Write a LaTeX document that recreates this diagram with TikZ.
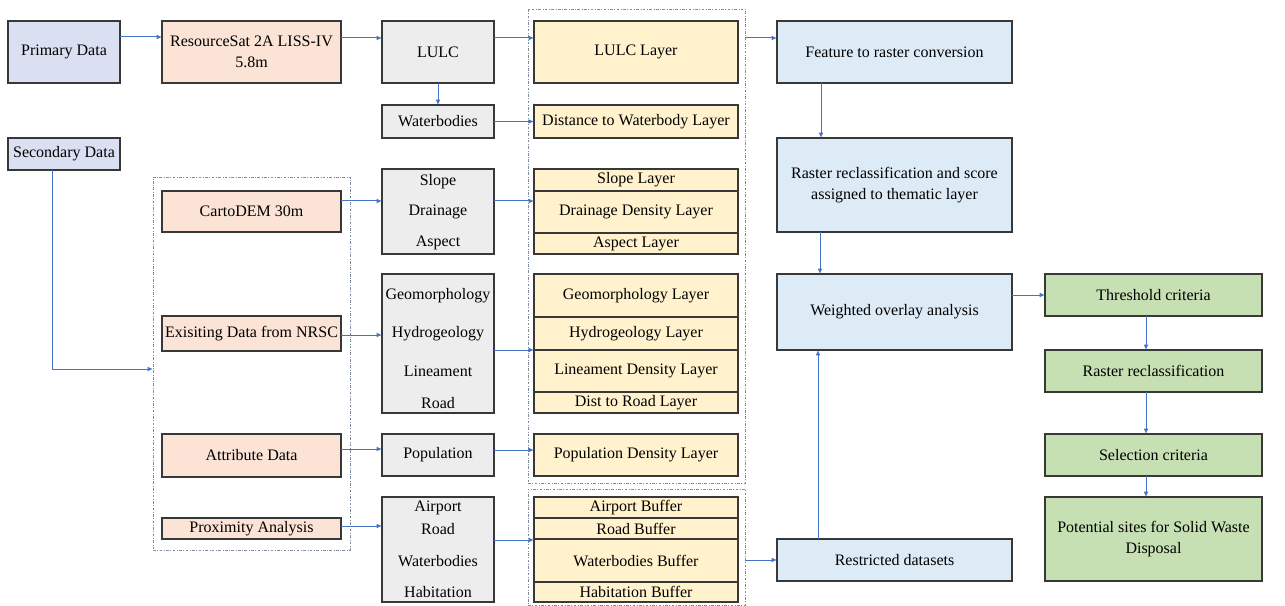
\documentclass[tikz,border=0pt]{standalone}
\usepackage{fontspec}
\setmainfont{Liberation Serif}
\usetikzlibrary{arrows.meta}
\definecolor{cPri}{HTML}{DAE0F2}
\definecolor{cPeach}{HTML}{FBE3D6}
\definecolor{cGray}{HTML}{EDEDED}
\definecolor{cYel}{HTML}{FFF2CC}
\definecolor{cBlue}{HTML}{DDEBF7}
\definecolor{cGreen}{HTML}{C6E0B4}
\definecolor{cArr}{HTML}{4472C4}
\definecolor{cBord}{HTML}{383838}
\definecolor{cDash}{HTML}{7F8CA0}
\tikzset{
  base/.style={draw=cBord, line width=0.8pt, inner sep=0pt, outer sep=0pt, align=center,
    font=\fontsize{12}{15.75}\selectfont, text=black},
  pri/.style={base, fill=cPri},
  peach/.style={base, fill=cPeach},
  gray/.style={base, fill=cGray},
  yel/.style={base, fill=cYel},
  lblue/.style={base, fill=cBlue},
  green/.style={base, fill=cGreen},
  dbox/.style={draw=cDash, line width=0.6pt, dash pattern=on 2pt off 1.2pt on 0.5pt off 1.2pt, inner sep=0pt, outer sep=0pt},
  lbl/.style={inner sep=0pt, font=\fontsize{12}{15.75}\selectfont, text=black},
  arr/.style={draw=cArr, line width=0.75pt, -{Latex[length=4pt,width=3.5pt]}},
  ln/.style={draw=cArr, line width=0.75pt}
}
% #1 style, #2 name, #3 x1, #4 y1, #5 x2, #6 y2, #7 text
\newcommand\bx[7]{\node[#1, minimum width={(#5-#3)*0.75pt}, minimum height={(#6-#4)*0.75pt}] (#2) at ({(#3+#5)/2},{(#4+#6)/2}) {#7};}
\begin{document}
\begin{tikzpicture}[x=0.75pt,y=-0.75pt]
\useasboundingbox[fill=white] (0,0) rectangle (1285,606);
% dashed frames
\bx{dbox}{leftbox}{153}{177}{350}{550}{}
\bx{dbox}{laybox}{528}{9}{745}{483}{}
\bx{dbox}{bufbox}{528}{489}{745}{605}{}
% column 1
\bx{pri}{prim}{8}{21}{120}{83}{Primary Data}
\bx{pri}{sec}{8}{138}{120}{170}{Secondary Data}
% column 2
\bx{peach}{res}{162}{21}{341}{83}{ResourceSat 2A LISS-IV\\5.8m}
\bx{peach}{carto}{162}{191}{341}{232}{CartoDEM 30m}
\bx{peach}{exist}{162}{316}{341}{351}{Exisiting Data from NRSC}
\bx{peach}{attr}{162}{434}{341}{477}{Attribute Data}
\bx{peach}{prox}{162}{518}{341}{539}{Proximity Analysis}
% column 3
\bx{gray}{lulc}{382}{21}{494}{83}{LULC}
\bx{gray}{wat}{382}{105}{494}{138}{Waterbodies}
\bx{gray}{sda}{382}{169}{494}{254}{}
\node[lbl] (sdaA) at (438,182) {Slope};
\node[lbl] (sdaB) at (438,212) {Drainage};
\node[lbl] (sdaC) at (438,243) {Aspect};
\bx{gray}{geo}{382}{274}{494}{413}{}
\node[lbl] (geoA) at (438,296) {Geomorphology};
\node[lbl] (geoB) at (438,334) {Hydrogeology};
\node[lbl] (geoC) at (438,371) {Lineament};
\node[lbl] (geoD) at (438,403) {Road};
\bx{gray}{pop}{382}{434}{494}{476}{Population}
\bx{gray}{air}{382}{497}{494}{602}{}
\node[lbl] (airA) at (438,508) {Airport};
\node[lbl] (airB) at (438,529) {Road};
\node[lbl] (airC) at (438,561) {Waterbodies};
\node[lbl] (airD) at (438,592) {Habitation};
% column 4 layers
\bx{yel}{lulcL}{534}{21}{738}{83}{LULC Layer}
\bx{yel}{distL}{534}{105}{738}{138}{Distance to Waterbody Layer}
\bx{yel}{slopeL}{534}{169}{738}{191}{Slope Layer}
\bx{yel}{drainL}{534}{191}{738}{233}{Drainage Density Layer}
\bx{yel}{aspL}{534}{233}{738}{254}{Aspect Layer}
\bx{yel}{geoL}{534}{274}{738}{317}{Geomorphology Layer}
\bx{yel}{hydroL}{534}{317}{738}{350}{Hydrogeology Layer}
\bx{yel}{lineL}{534}{350}{738}{392}{Lineament Density Layer}
\bx{yel}{roadL}{534}{392}{738}{413}{Dist to Road Layer}
\bx{yel}{popL}{534}{434}{738}{476}{Population Density Layer}
\bx{yel}{airL}{534}{497}{738}{518}{Airport Buffer}
\bx{yel}{rbufL}{534}{518}{738}{539}{Road Buffer}
\bx{yel}{wbufL}{534}{539}{738}{582}{Waterbodies Buffer}
\bx{yel}{habL}{534}{582}{738}{602}{Habitation Buffer}
% column 5
\bx{lblue}{feat}{777}{21}{1012}{83}{Feature to raster conversion}
\bx{lblue}{rast}{777}{138}{1012}{232}{Raster reclassification and score\\assigned to thematic layer}
\bx{lblue}{wov}{777}{274}{1012}{350}{Weighted overlay analysis}
\bx{lblue}{restr}{777}{539}{1012}{581}{Restricted datasets}
% column 6
\bx{green}{thr}{1045}{274}{1262}{316}{Threshold criteria}
\bx{green}{rr}{1045}{350}{1262}{392}{Raster reclassification}
\bx{green}{sel}{1045}{434}{1262}{476}{Selection criteria}
\bx{green}{pot}{1045}{497}{1262}{581}{Potential sites for Solid Waste\\Disposal}
% connectors
\draw[arr] (prim.east |- 0,37) -- (res.west |- 0,37);
\draw[arr] (res.east |- 0,38) -- (lulc.west |- 0,38);
\draw[arr] (lulc.south) -- (wat.north);
\draw[arr] (lulc.east |- 0,38) -- (lulcL.west |- 0,38);
\draw[arr] (wat.east) -- (distL.west);
\draw[arr] (sec.south -| 52,0) |- (leftbox.west |- 0,369);
\draw[arr] (carto.east |- 0,201) -- (sda.west |- 0,201);
\draw[arr] (exist.east |- 0,335) -- (geo.west |- 0,335);
\draw[arr] (attr.east |- 0,449) -- (pop.west |- 0,449);
\draw[arr] (prox.east |- 0,526) -- (air.west |- 0,526);
\draw[arr] (sda.east |- 0,201) -- (drainL.west |- 0,201);
\draw[arr] (geo.east |- hydroL.south) -- (hydroL.south west);
\draw[arr] (pop.east |- 0,450) -- (popL.west |- 0,450);
\draw[arr] (air.east |- 0,540) -- (wbufL.west |- 0,540);
\draw[arr] (laybox.east |- 0,38) -- (feat.west |- 0,38);
\draw[arr] (feat.south -| 821,0) -- (rast.north -| 821,0);
\draw[arr] (rast.south -| 820,0) -- (wov.north -| 820,0);
\draw[arr] (wov.east |- thr.west) -- (thr.west);
\draw[arr] (thr.south -| 1146,0) -- (rr.north -| 1146,0);
\draw[arr] (rr.south -| 1146,0) -- (sel.north -| 1146,0);
\draw[arr] (sel.south -| 1146,0) -- (pot.north -| 1146,0);
\draw[arr] (bufbox.east |- restr.west) -- (restr.west);
\draw[arr] (restr.north -| 818,0) -- (wov.south -| 818,0);
\end{tikzpicture}
\end{document}
